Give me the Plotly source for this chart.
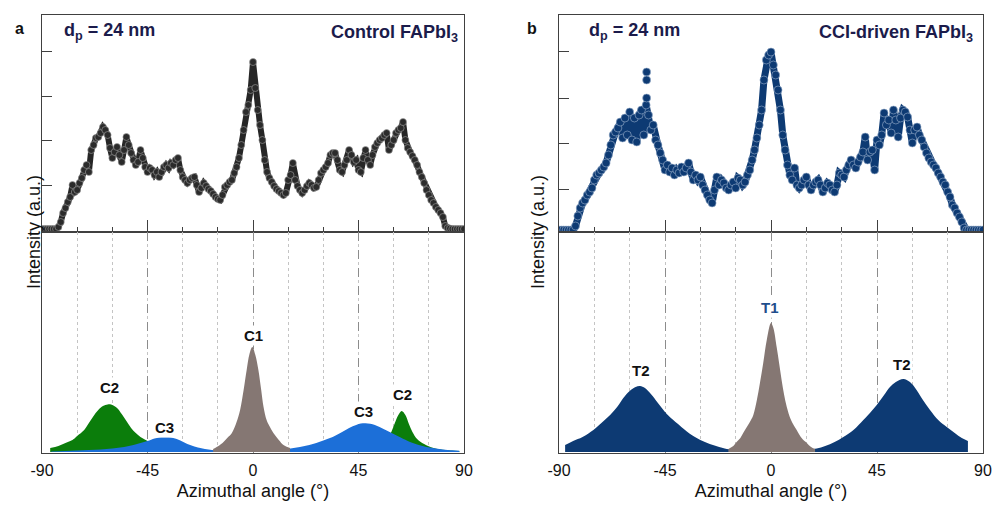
import numpy as np
import plotly.graph_objects as go

# ---------------- data ----------------
angle = np.arange(-90, 91)  # 1 degree sampling of the azimuthal scan

control_int = [1, 1, 1, 1, 1, 1, 1,
               3, 8, 17, 22, 28, 33, 45, 38, 40, 47,
               52, 60, 65, 58, 80, 85, 92, 93, 97, 103,
               100, 95, 82, 72, 78, 83, 75, 68, 80, 93,
               85, 77, 70, 65, 68, 80, 72, 63, 58, 62,
               60, 55, 58, 53, 58, 63, 65, 62, 67, 65,
               70, 72, 60, 53, 50, 47, 50, 52, 53, 45,
               38, 42, 47, 44, 41, 39, 36, 33, 31, 30,
               35, 43, 45, 48, 50, 57, 63, 72, 85, 100,
               118, 125, 140, 168, 142, 120, 105, 90, 70, 58,
               52, 48, 44, 41, 39, 37, 35, 37, 50, 55,
               67, 50, 44, 40, 37, 40, 44, 47, 45, 42,
               43, 50, 57, 60, 63, 67, 75, 77, 77, 70,
               60, 58, 65, 70, 80, 75, 68, 70, 60, 58,
               72, 80, 70, 65, 75, 83, 87, 90, 92, 95,
               97, 80, 85, 90, 97, 100, 102, 108, 90, 82,
               78, 74, 70, 65, 58, 53, 47, 40, 35, 30,
               27, 23, 20, 17, 13, 4, 2, 1.5, 1, 1,
               1, 1, 1, 1]

cci_int = [0, 0, 0, 0, 0, 0, 0,
           4, 14, 22, 27, 30, 35, 38, 42, 50, 55,
           57, 60, 63, 67, 75, 85, 95, 98, 102, 108,
           92, 112, 95, 118, 90, 112, 88, 115, 120, 95,
           125, 115, 100, 105, 90, 85, 77, 70, 60, 65,
           58, 62, 55, 60, 57, 63, 58, 62, 67, 58,
           50, 55, 50, 53, 45, 40, 35, 30, 27, 40,
           53, 45, 50, 47, 42, 40, 45, 48, 42, 52,
           50, 45, 48, 55, 60, 70, 80, 92, 105, 120,
           150, 170, 175, 178, 165, 155, 140, 120, 95, 80,
           65, 55, 50, 62, 45, 42, 45, 50, 53, 45,
           40, 45, 48, 50, 45, 38, 42, 47, 45, 40,
           38, 45, 57, 55, 53, 60, 65, 70, 65, 62,
           68, 73, 78, 93, 70, 78, 80, 60, 90, 85,
           95, 117, 105, 110, 97, 120, 110, 93, 112, 120,
           118, 113, 100, 87, 100, 103, 95, 90, 83, 77,
           72, 68, 65, 62, 57, 53, 48, 45, 38, 33,
           25, 22, 17, 13, 8, 2, 0, 0, 0, 0,
           0, 0, 0, 0]

cci_out_x = [-52.8, -52.8, -52.8]
cci_out_y = [158, 150, 132]

# fitted components, control
c2l_x = [-86.5, -83, -80, -77, -75, -72, -70, -68, -66, -64, -62, -61, -60, -58,
         -56, -54, -52, -50, -48, -45, -42, -38, -34]
c2l_y = [4, 6, 9, 12, 16, 22, 29, 36, 42, 46, 47.5, 47.7, 47, 44,
         38, 31, 24, 19, 15, 11, 8, 5, 3]
c3_x = [-86, -80, -75, -70, -65, -60, -55, -51, -48, -45, -42, -40, -38, -36, -34,
        -31, -28, -25, -22, -19, -16, -12, -8, -4, 0, 4, 8, 12, 16, 20, 24, 27, 30,
        34, 38, 41, 44, 46, 48, 50, 52, 54, 57, 60, 63, 67, 70, 74, 78, 81, 85, 88]
c3_y = [0.5, 1, 1.5, 2, 2.5, 3.5, 5, 7, 9, 11, 13.5, 14.5, 14.8, 14.8, 14,
        11.5, 8, 5.5, 3.8, 2.5, 1.8, 1.2, 1, 1, 1, 1.3, 1.8, 2.5, 3.5, 5, 7, 9, 11.5,
        15, 20, 24, 27, 28.5, 28.8, 28.3, 27, 25, 21.5, 18, 14.5, 10, 7.5, 5, 3.5, 2.5, 1.7, 1.3]
c2r_x = [50, 54, 57, 59, 60.5, 62, 63.4, 65, 66.5, 68, 70, 73, 77, 82, 88]
c2r_y = [4, 7, 12, 20, 29, 37, 41, 37, 28, 20, 13, 8, 4, 2, 1]
c1_x = [-17, -15.5, -13, -11, -9, -7, -5.5, -4, -2.7, -1.5, -0.3, 1, 2.3, 3.5,
        4.5, 5.8, 7, 8.7, 11, 13, 15.8]
c1_y = [3, 5, 9, 14, 19, 30, 42, 62, 82, 98, 105, 97, 82, 62,
        45, 32, 26, 19, 12, 7, 4]

# fitted components, CCI-driven
t2l_x = [-87.4, -84, -80, -75.4, -72, -68.3, -65, -62.7, -60, -57.5, -55.6, -53.5,
         -51, -48, -45, -42, -40, -36, -33, -30, -26, -22, -18.8, -14, -10, -5, 0]
t2l_y = [7, 11, 15, 22, 29, 37, 46, 54, 61, 65, 66, 64,
         58, 49, 40, 33, 29, 21, 16, 12, 8, 5, 3, 2, 1.2, 0.8, 0.5]
t1_x = [-18.1, -16, -14.6, -13, -11.8, -10, -8.5, -7.5, -6, -4.7, -3.3, -1.8, 0,
        1, 2.4, 3.5, 4.5, 5.5, 6.7, 8.5, 10.9, 13, 15.2, 17, 18.7]
t1_y = [3, 6, 10, 14, 19, 26, 32, 37, 52, 69, 89, 112, 129,
        124, 105, 88, 72, 58, 45, 32, 22, 14, 9, 5, 3]
t2r_x = [0, 5, 10, 15, 19.4, 23, 27, 30.7, 35, 39.2, 42, 44.9, 48, 50.5, 53, 56.2,
         59, 61.8, 64.5, 67.5, 71, 74.6, 78, 81, 83.6]
t2r_y = [0.5, 0.8, 1.3, 2.2, 3.5, 6, 10, 15, 22, 32, 39, 47, 57, 65, 70, 73,
         70, 62, 52, 42, 32, 25, 19, 14, 11]

# ---------------- figure ----------------
W, H = 995, 507
FONT = "Arial, Liberation Sans, sans-serif"
GREEN = "#0b7d0b"
BLUE = "#1c6fd8"
GREY = "#857773"
NAVY = "#0d3a73"
FRAME = "#404040"


def px(x):
    return x / W


def py(y):
    return 1 - y / H


dom_a = [px(42), px(464)]
dom_b = [px(559), px(983)]
dom_top = [py(232), py(15)]
dom_bot = [py(453), py(232)]

fig = go.Figure()

# upper scatter panels: thick line underneath gives the dense ribbon of the raw scan
fig.add_trace(go.Scatter(x=angle, y=control_int, mode="lines+markers", xaxis="x", yaxis="y",
                         line=dict(color="#262626", width=6),
                         marker=dict(size=7, color="#2b2b2b", line=dict(color="#a0a0a0", width=0.6))))
fig.add_trace(go.Scatter(x=angle, y=cci_int, mode="lines+markers", xaxis="x3", yaxis="y3",
                         line=dict(color=NAVY, width=7),
                         marker=dict(size=8, color=NAVY, line=dict(color="#9bb0cc", width=0.6))))
fig.add_trace(go.Scatter(x=cci_out_x, y=cci_out_y, mode="markers", xaxis="x3", yaxis="y3",
                         marker=dict(size=8, color=NAVY, line=dict(color="#9bb0cc", width=0.6))))


def area(x, y, color, xa, ya):
    return go.Scatter(x=x, y=y, mode="lines", fill="tozeroy", fillcolor=color,
                      line=dict(width=0, shape="spline", color=color), xaxis=xa, yaxis=ya)


fig.add_trace(area(c2l_x, c2l_y, GREEN, "x2", "y2"))
fig.add_trace(area(c2r_x, c2r_y, GREEN, "x2", "y2"))
fig.add_trace(area(c3_x, c3_y, BLUE, "x2", "y2"))
fig.add_trace(area(c1_x, c1_y, GREY, "x2", "y2"))

fig.add_trace(area(t2l_x, t2l_y, NAVY, "x4", "y4"))
fig.add_trace(area(t2r_x, t2r_y, NAVY, "x4", "y4"))
fig.add_trace(area(t1_x, t1_y, GREY, "x4", "y4"))

frame = dict(showline=True, linecolor=FRAME, linewidth=1.3, mirror=True,
             zeroline=False, showgrid=False, automargin=False)

top_x = dict(range=[-90, 90], showticklabels=False, ticks="inside", tick0=-90, dtick=45,
             ticklen=12, tickcolor=FRAME, tickwidth=1.2,
             minor=dict(tick0=-90, dtick=15, ticks="inside", ticklen=5, tickcolor=FRAME),
             **frame)
bot_x = dict(range=[-90, 90], tickvals=[-90, -45, 0, 45, 90],
             ticktext=["-90", "-45", "0", "45", "90"],
             ticks="outside", ticklen=3, tickcolor="rgba(0,0,0,0)",
             tickfont=dict(size=16, color="#111", family=FONT),
             title=dict(text="Azimuthal angle (°)", font=dict(size=18, color="#111", family=FONT),
                        standoff=6),
             showline=True, linecolor=FRAME, linewidth=1.3, mirror=True, zeroline=False,
             automargin=False,
             showgrid=True, gridcolor="#8c8c8c", gridwidth=1, griddash="dash",
             minor=dict(tick0=-90, dtick=15, showgrid=True, gridcolor="#c4c4c4",
                        gridwidth=1, griddash="dot"))
bot_y = dict(range=[-1, 220], showticklabels=False, ticks="", **frame)

fig.update_layout(
    width=W, height=H, showlegend=False,
    margin=dict(l=0, r=0, t=0, b=0),
    paper_bgcolor="white", plot_bgcolor="white",
    font=dict(family=FONT, color="#111"),
    xaxis=dict(domain=dom_a, anchor="y", **top_x),
    yaxis=dict(domain=dom_top, anchor="x", range=[-2, 215], tickvals=[45, 90, 134, 179],
               ticks="inside", ticklen=10, tickcolor=FRAME, showticklabels=False, **frame),
    xaxis2=dict(domain=dom_a, anchor="y2", **bot_x),
    yaxis2=dict(domain=dom_bot, anchor="x2", **bot_y),
    xaxis3=dict(domain=dom_b, anchor="y3", **top_x),
    yaxis3=dict(domain=dom_top, anchor="x3", range=[-2, 215], tickvals=[41, 87, 132, 179],
                ticks="inside", ticklen=10, tickcolor=FRAME, showticklabels=False, **frame),
    xaxis4=dict(domain=dom_b, anchor="y4", **bot_x),
    yaxis4=dict(domain=dom_bot, anchor="x4", **bot_y),
)

ann = []
# panel letters and headers
head = dict(size=18, color="#1b1b4b", family=FONT)
ann.append(dict(x=px(13), y=py(18), text="<b>a</b>", font=dict(size=16, color="#111"),
                showarrow=False, xref="paper", yref="paper"))
ann.append(dict(x=px(532), y=py(18), text="<b>b</b>", font=dict(size=16, color="#111"),
                showarrow=False, xref="paper", yref="paper"))
for x0, x1, name in [(62, 460, "Control FAPbI<sub>3</sub>"), (587, 975, "CCI-driven FAPbI<sub>3</sub>")]:
    ann.append(dict(x=px(x0), y=py(32), xanchor="left", yanchor="middle", showarrow=False,
                    xref="paper", yref="paper", text="<b>d<sub>p</sub> = 24 nm</b>", font=head))
    ann.append(dict(x=px(x1), y=py(33), xanchor="right", yanchor="middle", showarrow=False,
                    xref="paper", yref="paper", text="<b>" + name + "</b>", font=head))
for xx in (22, 538):
    ann.append(dict(x=px(xx), y=py(232), text="Intensity (a.u.)", textangle=-90, showarrow=False,
                    xref="paper", yref="paper", font=dict(size=18, color="#111", family=FONT)))

# component labels
for x, y, t, xr, yr, c in [(-61, 65, "C2", "x2", "y2", "#111"), (-37.8, 25, "C3", "x2", "y2", "#111"),
                           (0.4, 117, "C1", "x2", "y2", "#111"), (47, 41, "C3", "x2", "y2", "#111"),
                           (63.9, 58, "C2", "x2", "y2", "#111"),
                           (-55.2, 82, "T2", "x4", "y4", "#111"), (-0.4, 145, "T1", "x4", "y4", "#1f4e8c"),
                           (55.5, 88, "T2", "x4", "y4", "#111")]:
    ann.append(dict(x=x, y=y, xref=xr, yref=yr, text="<b>" + t + "</b>", showarrow=False,
                    bgcolor="white", borderpad=1, font=dict(size=15, color=c, family=FONT)))

fig.update_layout(annotations=ann)

# the page's default body margin would push the 995x507 figure off the window
fig.write_html("out.html", config={"displayModeBar": False},
               post_script="document.body.style.margin='0px';")
